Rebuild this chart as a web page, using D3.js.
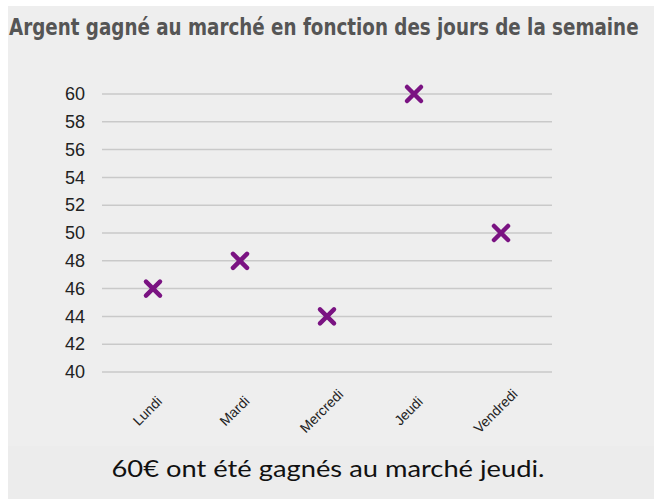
<!DOCTYPE html>
<html>
<head>
<meta charset="utf-8">
<script src="https://cdn.jsdelivr.net/npm/d3@7"></script>
<style>
  body { margin: 0; background: #fff; }
</style>
</head>
<body>
<svg></svg>
<script>
var days = ["Lundi", "Mardi", "Mercredi", "Jeudi", "Vendredi"];
var money = [46, 48, 44, 60, 50];
var yTicks = [40, 42, 44, 46, 48, 50, 52, 54, 56, 58, 60];

var width = 654, height = 499;

var svg = d3.select("svg")
  .attr("width", width)
  .attr("height", height);

// fond gris
svg.append("rect")
  .attr("x", 8).attr("y", 6)
  .attr("width", width - 8).attr("height", height - 6)
  .attr("fill", "#eeeeee");

svg.append("rect")
  .attr("x", 8).attr("y", 446)
  .attr("width", width - 8).attr("height", height - 446)
  .attr("fill", "#ececec");

// titre condensé : on mesure puis on resserre horizontalement
var title = svg.append("text")
  .attr("x", 0).attr("y", 0)
  .attr("font-family", "'DejaVu Sans Condensed', sans-serif")
  .attr("font-weight", "bold")
  .attr("font-size", 23)
  .attr("fill", "#555")
  .text("Argent gagné au marché en fonction des jours de la semaine");
var tw = title.node().getComputedTextLength();
title.attr("transform", "translate(9,35) scale(" + (630 / tw) + ",1)");

var x = d3.scalePoint()
  .domain(days)
  .range([102, 552])
  .padding(0.586);

var y = d3.scaleLinear()
  .domain([40, 60])
  .range([372, 94]);

var grid = svg.append("g");
grid.selectAll("line")
  .data(yTicks)
  .enter().append("line")
  .attr("x1", 102).attr("x2", 552)
  .attr("y1", function(d) { return y(d); })
  .attr("y2", function(d) { return y(d); })
  .attr("stroke", "#c9c9c9")
  .attr("stroke-width", 1.5);

var yAxis = svg.append("g")
  .attr("transform", "translate(85,0)")
  .call(d3.axisLeft(y).tickValues(yTicks).tickSize(0).tickPadding(0));
yAxis.select(".domain").remove();
yAxis.selectAll("text")
  .attr("font-family", "'Liberation Sans', Arial, sans-serif")
  .attr("font-size", 18)
  .attr("fill", "#222");

var xAxis = svg.append("g")
  .call(d3.axisBottom(x).tickSize(0).tickPadding(0));
xAxis.select(".domain").remove();
xAxis.selectAll("text")
  .attr("font-family", "'Liberation Sans', Arial, sans-serif")
  .attr("font-size", 14)
  .attr("fill", "#222")
  .attr("text-anchor", "middle")
  .attr("y", 0)
  .attr("dy", "0.35em")
  .attr("transform", "translate(-6,411) rotate(-45)");

var s = 7;
svg.append("g").selectAll("path")
  .data(money)
  .enter().append("path")
  .attr("d", function(d, i) {
    var cx = x(days[i]), cy = y(d);
    return "M" + (cx - s) + "," + (cy - s) + "L" + (cx + s) + "," + (cy + s) +
           "M" + (cx - s) + "," + (cy + s) + "L" + (cx + s) + "," + (cy - s);
  })
  .attr("stroke", "#7a1382")
  .attr("stroke-width", 4.5)
  .attr("stroke-linecap", "round")
  .attr("fill", "none");

svg.append("text")
  .attr("x", 328).attr("y", 477)
  .attr("textLength", 433)
  .attr("lengthAdjust", "spacingAndGlyphs")
  .attr("text-anchor", "middle")
  .attr("font-family", "Lato, 'Open Sans', sans-serif")
  .attr("font-size", 24)
  .attr("fill", "#111")
  .text("60€ ont été gagnés au marché jeudi.");
</script>
</body>
</html>
